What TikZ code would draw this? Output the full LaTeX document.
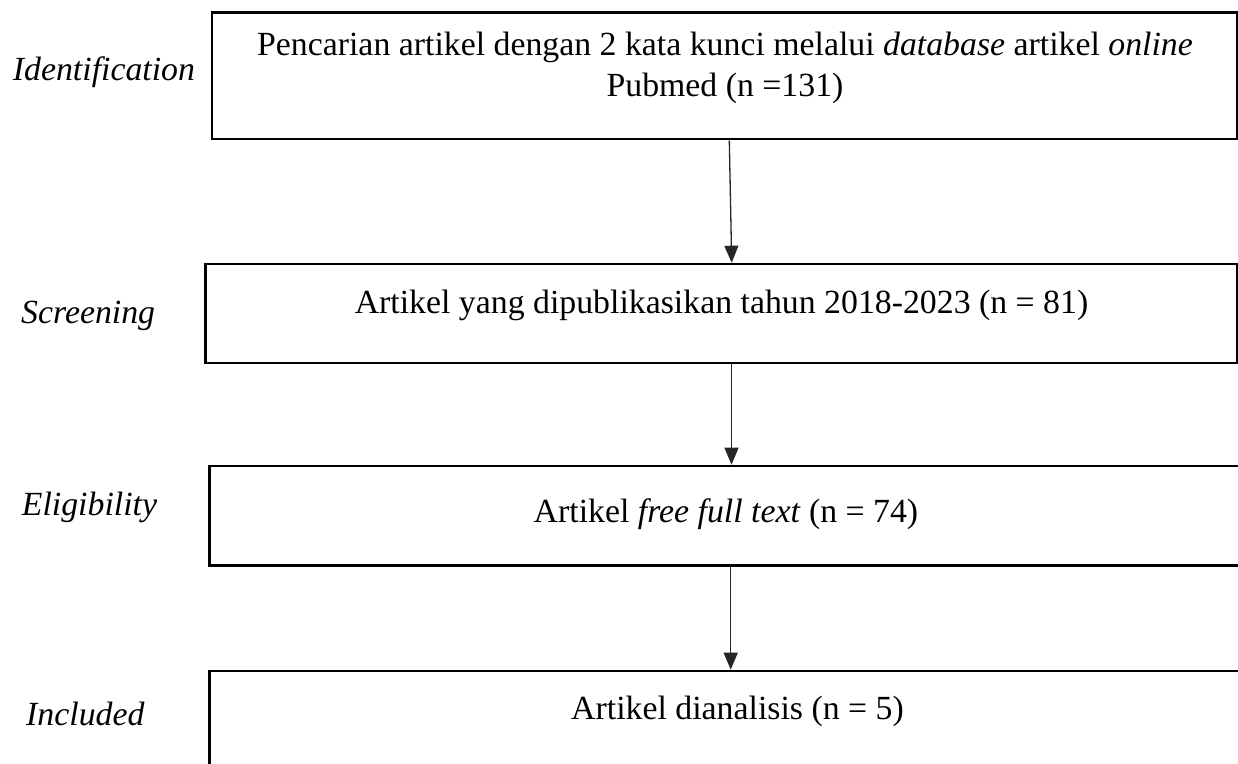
\documentclass[tikz,border=0pt]{standalone}
\usepackage{fontspec}
\setmainfont{Liberation Serif}
\usetikzlibrary{arrows.meta}
\begin{document}
\begin{tikzpicture}[x=1pt,y=-1pt,
  box/.style={draw=black, line width=2.6pt, inner sep=0pt, rectangle},
  txt/.style={inner sep=0pt, anchor=base, font=\fontsize{33.8}{41}\selectfont},
  lab/.style={inner sep=0pt, anchor=base west, font=\fontsize{33.8}{41}\selectfont\itshape},
  arr/.style={draw=black!85, line width=1.3pt, -{Triangle[length=17pt,width=14pt]}}]
\useasboundingbox (0,0) rectangle (1238,763);
\clip (0,0) rectangle (1238,763);
% boxes
\node[box, minimum width=1025pt, minimum height=126.5pt] (b1) at (724.5,75.75) {};
\node[box, minimum width=1031.6pt, minimum height=99pt] (b2) at (721.5,313.5) {};
\node[box, minimum width=1060pt, minimum height=99.3pt] (b3) at (739.3,515.65) {};
\node[box, minimum width=1060pt, minimum height=149pt] (b4) at (739.3,745.5) {};
% texts
\node[txt] (t1a) at (725,55) {Pencarian artikel dengan 2 kata kunci melalui \textit{database} artikel \textit{online}};
\node[txt] (t1b) at (725,96) {Pubmed (n =131)};
\node[txt] (t2) at (721.5,313) {Artikel yang dipublikasikan tahun 2018-2023 (n = 81)};
\node[txt] (t3) at (726,522) {Artikel \textit{free full text} (n = 74)};
\node[txt] (t4) at (737.5,719) {Artikel dianalisis (n = 5)};
% stage labels
\node[lab] (l1) at (12.7,80) {Identification};
\node[lab] (l2) at (21,323) {Screening};
\node[lab] (l3) at (21.7,515) {Eligibility};
\node[lab] (l4) at (26,725) {Included};
% arrows
\draw[arr] ([xshift=4.8pt]b1.south) -- ([xshift=10.2pt]b2.north);
\draw[arr] ([xshift=10pt]b2.south) -- ([xshift=-7.8pt]b3.north);
\draw[arr] ([xshift=-8.6pt]b3.south) -- ([xshift=-8.6pt]b4.north);
\end{tikzpicture}
\end{document}
